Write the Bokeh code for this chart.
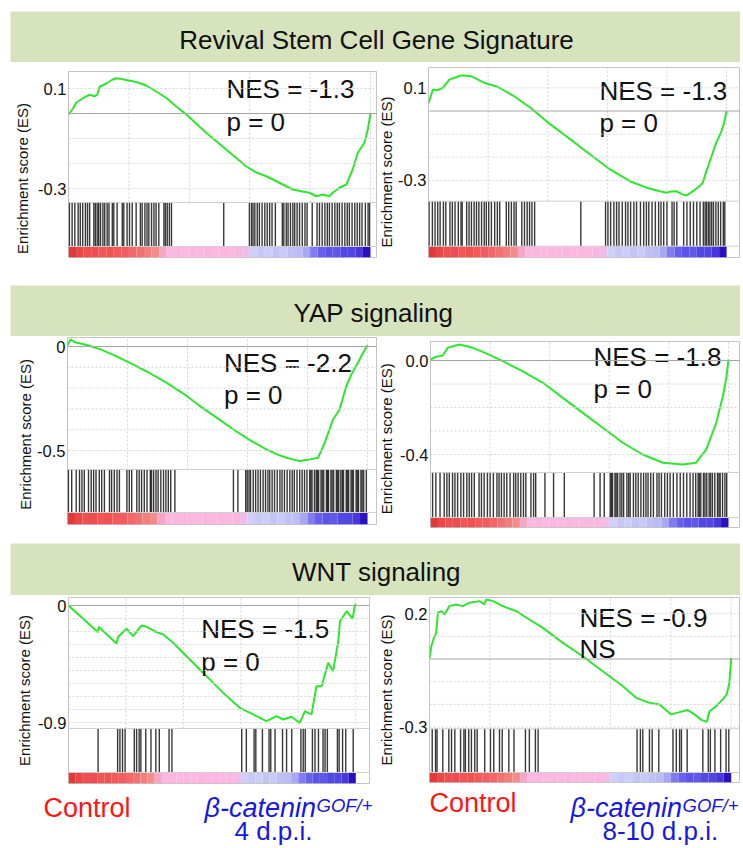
import numpy as np
from bokeh.plotting import figure
from bokeh.models import Span, FixedTicker, Range1d
from bokeh.layouts import column, row
from bokeh.embed import file_html
from bokeh.resources import INLINE
from bokeh.core.properties import value

FONT = "Liberation Sans"
BAND = "#d7e3bd"
GREEN = "#2ee62e"

# ---------------- data ----------------
titles = ["Revival Stem Cell Gene Signature", "YAP signaling", "WNT signaling"]

a_rank = [0, 1.5, 2.5, 4, 5.9, 7, 8.6, 9.5, 10.3, 12.5, 14.5, 15.8, 17.5, 19.5, 21.3, 23.5, 25.7, 28.5, 32.3, 35.5,
          39, 45.6, 52.2, 58.8, 62, 65.5, 69, 72.1, 74.3, 77, 79.8, 82, 84.2, 86.4, 87.5, 89.7, 92, 94.1, 95.8, 98,
          99.1, 100]
a_es = [-0.004, 0.02, 0.043, 0.055, 0.069, 0.075, 0.069, 0.075, 0.107, 0.12, 0.135, 0.141, 0.138, 0.133, 0.129,
        0.122, 0.112, 0.092, 0.063, 0.03, -0.004, -0.077, -0.144, -0.211, -0.235, -0.251, -0.272, -0.291, -0.304,
        -0.311, -0.317, -0.331, -0.324, -0.331, -0.317, -0.297, -0.284, -0.224, -0.157, -0.117, -0.064, 0.0]
a_hits = [0.3, 1.2, 2.1, 3.2, 3.9, 4.7, 5.6, 6.3, 7.0, 8.4, 8.9, 9.5, 10.0, 10.6, 11.4, 12.0, 12.8, 13.4, 14.5, 15.0,
          16.1, 17.8, 18.3, 19.4, 20.2, 21.1, 22.4, 23.8, 24.4, 25.3, 26.0, 26.6, 27.5, 28.3, 29.0, 29.9, 31.6, 32.1,
          32.7, 33.4, 34.1, 51.4, 59.9, 60.6, 61.1, 61.7, 62.5, 63.2, 64.1, 65.0, 65.8, 66.6, 67.4, 68.5, 70.8, 71.3,
          72.1, 72.7, 73.5, 74.3, 74.9, 75.7, 76.5, 77.4, 78.3, 79.0, 80.7, 82.3, 83.1, 84.0, 84.9, 85.7, 86.4, 87.3,
          88.2, 89.0, 89.7, 90.6, 91.5, 92.3, 93.0, 93.9, 94.8, 95.6, 96.4, 97.2, 98.3, 99.2, 99.7]

b_rank = [0, 1.5, 3, 4.8, 7, 9, 10.9, 14.2, 16, 18.7, 23.1, 28.7, 34.2, 40.9, 47.6, 54.2, 60.9, 67.6, 73.1, 77,
          79.8, 81.5, 83.1, 85, 86.5, 88.7, 90.5, 92, 93, 94.2, 96.5, 98.1, 99.2, 100]
b_es = [0.035, 0.093, 0.09, 0.1, 0.136, 0.145, 0.154, 0.151, 0.14, 0.122, 0.105, 0.064, 0.014, -0.058, -0.123,
        -0.188, -0.253, -0.304, -0.332, -0.345, -0.354, -0.348, -0.347, -0.36, -0.366, -0.347, -0.33, -0.311,
        -0.27, -0.224, -0.138, -0.094, -0.051, 0.0]
b_hits = [0.2, 1.3, 2.2, 3.1, 3.9, 5.0, 5.8, 7.2, 8.0, 8.9, 10.0, 10.9, 11.3, 12.8, 13.6, 14.4, 15.3, 16.1, 16.9,
          17.8, 18.7, 19.4, 20.2, 21.1, 22.2, 23.1, 23.9, 26.1, 26.9, 27.8, 28.7, 29.4, 31.3, 32.2, 33.1, 33.9, 34.7,
          35.6, 51.1, 59.4, 60.2, 61.1, 62.2, 63.1, 63.9, 65.0, 66.1, 66.9, 67.8, 68.9, 69.8, 71.1, 72.2, 73.1, 73.9,
          75.0, 76.1, 77.2, 78.0, 78.9, 80.0, 81.7, 82.4, 83.3, 85.6, 86.7, 87.8, 88.9, 90.0, 91.1, 92.2, 92.8, 93.3,
          93.9, 94.4, 95.0, 95.6, 96.4, 97.2, 98.0, 98.9, 99.4]

c_rank = [0, 1, 2.5, 4.3, 7, 11, 16, 22, 27, 33.1, 38.5, 44.2, 49.8, 55.3, 60.8, 66.3, 70, 73, 77.4, 80, 83.5,
          85.7, 88.5, 90.7, 92.9, 94.6, 96.8, 98.5, 100]
c_es = [0.006, 0.034, 0.02, 0.014, 0.005, -0.014, -0.045, -0.087, -0.125, -0.175, -0.225, -0.287, -0.343, -0.399,
        -0.45, -0.495, -0.52, -0.535, -0.551, -0.545, -0.535, -0.463, -0.351, -0.303, -0.191, -0.135, -0.078,
        -0.03, 0.006]
c_hits = [0.3, 1.4, 2.9, 4.0, 4.8, 5.6, 7.0, 7.9, 8.7, 9.5, 10.6, 11.4, 12.3, 14.0, 14.7, 15.6, 16.5, 17.3, 19.8,
          20.6, 21.4, 23.1, 23.9, 24.7, 25.6, 26.5, 27.6, 28.0, 28.7, 29.5, 30.2, 31.1, 32.0, 32.8, 33.6, 34.4, 35.8,
          55.3, 56.8, 59.4, 59.9, 60.5, 61.0, 61.9, 62.7, 63.5, 64.3, 65.2, 66.0, 66.8, 67.4, 68.2, 69.0, 69.9, 70.8,
          71.5, 72.3, 73.2, 74.1, 74.9, 75.6, 76.5, 77.4, 78.2, 79.0, 79.8, 80.7, 81.1, 81.5, 82.3, 82.9, 83.3, 83.7,
          84.5, 84.9, 85.4, 86.3, 86.7, 87.0, 87.8, 88.2, 88.7, 89.6, 90.0, 90.4, 91.1, 91.6, 92.0, 92.9, 93.3, 93.7,
          94.5, 94.9, 95.3, 96.2, 96.6, 97.0, 97.8, 98.2, 98.7, 99.6]

d_rank = [0, 1.9, 4.1, 5.8, 9.7, 14.2, 18.7, 24.3, 31, 37.7, 44.4, 51.1, 57.8, 64.5, 71.2, 78, 84.7, 89.1, 92.5,
          95.9, 98.1, 99.2, 100]
d_es = [0.004, 0.016, 0.021, 0.054, 0.068, 0.054, 0.03, -0.003, -0.046, -0.095, -0.159, -0.223, -0.286, -0.35,
        -0.4, -0.435, -0.443, -0.435, -0.379, -0.265, -0.152, -0.081, 0.004]
d_hits = [0.7, 1.8, 3.2, 4.6, 5.5, 6.3, 7.4, 8.2, 9.1, 10.2, 11.1, 12.2, 13.0, 13.8, 14.7, 16.3, 17.1, 18.0, 19.1,
          20.0, 21.1, 22.3, 23.0, 23.8, 24.7, 25.6, 26.7, 27.9, 28.6, 29.4, 30.3, 31.2, 32.0, 33.7, 34.6, 35.3, 38.4,
          41.3, 44.9, 54.9, 56.9, 58.3, 60.3, 60.7, 61.1, 61.9, 62.3, 62.8, 63.6, 64.2, 64.8, 65.9, 66.5, 67.0, 68.1,
          68.9, 69.7, 70.6, 71.5, 72.3, 73.0, 73.9, 74.8, 76.0, 76.7, 77.5, 78.6, 79.5, 80.4, 81.5, 82.7, 83.8, 84.9,
          86.0, 87.1, 88.1, 89.0, 89.8, 90.2, 90.7, 91.6, 92.1, 92.7, 93.5, 94.0, 94.6, 95.4, 96.3, 96.8, 97.2, 98.0,
          98.8, 99.4]

e_rank = [0, 10.3, 10.5, 16.7, 17.3, 20.2, 22.5, 25.4, 27.2, 30.6, 33, 36.4, 41.1, 45.7, 50.4, 55, 59.6, 64.3,
          66.6, 68.9, 72.4, 74.7, 77.6, 80.5, 82.3, 84.6, 86.3, 88.1, 90.4, 92.1, 93.9, 94.5, 96.8, 98.9, 99.7, 100]
e_es = [0, -0.205, -0.164, -0.292, -0.241, -0.179, -0.236, -0.154, -0.164, -0.205, -0.223, -0.287, -0.39, -0.492,
        -0.595, -0.697, -0.787, -0.838, -0.864, -0.89, -0.851, -0.877, -0.856, -0.903, -0.813, -0.838, -0.621,
        -0.621, -0.441, -0.505, -0.274, -0.121, -0.044, -0.103, 0.008, 0]
e_hits = [10.3, 17.1, 17.9, 18.8, 19.7, 22.9, 23.7, 24.6, 25.2, 26.9, 28.7, 30.4, 31.6, 35.0, 36.0, 60.3, 61.9,
          64.6, 65.2, 67.5, 69.8, 70.4, 71.9, 74.5, 75.9, 77.7, 80.9, 81.7, 82.4, 84.9, 85.8, 87.0, 88.6, 89.3,
          90.1, 93.6, 94.2, 95.4, 96.5, 99.1]

f_rank = [0, 0.6, 1.3, 2.2, 2.8, 3.9, 5, 6.6, 8.8, 11, 13.3, 16.6, 18.2, 18.8, 21, 24.3, 28.7, 33.1, 37.6, 44.2,
          50.8, 57.4, 64.1, 68.5, 72.9, 76.2, 80.1, 82.9, 85.6, 87.8, 90, 91.9, 92.8, 95, 97.2, 98.5, 99.4, 100]
f_es = [0.005, 0.056, 0.086, 0.115, 0.204, 0.211, 0.196, 0.233, 0.24, 0.233, 0.248, 0.255, 0.24, 0.262, 0.255,
        0.233, 0.211, 0.174, 0.137, 0.071, 0.012, -0.054, -0.12, -0.171, -0.193, -0.2, -0.244, -0.234, -0.225,
        -0.244, -0.267, -0.277, -0.23, -0.208, -0.178, -0.156, -0.105, 0.005]
f_hits = [0.9, 2.0, 2.5, 4.4, 6.4, 7.3, 8.4, 10.3, 11.4, 11.9, 13.0, 13.9, 15.0, 15.8, 18.3, 20.2, 21.3, 23.2,
          24.1, 26.3, 28.0, 31.8, 33.1, 35.1, 36.0, 68.8, 69.9, 70.7, 72.9, 73.8, 76.0, 80.7, 81.8, 82.9, 83.5,
          85.4, 90.6, 92.4, 93.1, 94.6, 96.5, 98.3, 99.2]

# ranked-list heat strip (40 bins of 2.5 % each)
cbar_colors = ["#e03a3a", "#ea4848", "#f04f4f", "#ee4c55", "#f25555", "#f05252", "#f45a5a", "#f05c62",
               "#f26868", "#f07272", "#f27e7e", "#f48c8c", "#f6a6c4",
               "#fcb8e0", "#fbb6df", "#fcb8e0", "#fbb7e0", "#fcb8e0", "#fbb6df", "#fcb8e0", "#fbb7e0",
               "#fcb8e0", "#fbb6df", "#f0bde6",
               "#cfcff8", "#c8c8f6", "#cdcdf8", "#c4c4f4", "#cacaf6", "#c0c0f4", "#bcbcf4", "#a8a8f2",
               "#7e7cf0", "#6860ec", "#5c54e8", "#6058ea", "#5448e4", "#5046e2", "#4838dc", "#2a10c0"]

tick_vals = {"A": [0.1, -0.3], "B": [0.1, -0.3], "C": [0.0, -0.5], "D": [0.0, -0.4], "E": [0.0, -0.9], "F": [0.2, -0.3]}
tick_text = {"A": ["0.1", "-0.3"], "B": ["0.1", "-0.3"], "C": ["0", "-0.5"], "D": ["0.0", "-0.4"],
             "E": ["0", "-0.9"], "F": ["0.2", "-0.3"]}
nes_text = {"A": ["NES = -1.3", "p = 0"], "B": ["NES = -1.3", "p = 0"], "C": ["NES = -2.2", "p = 0"],
            "D": ["NES = -1.8", "p = 0"], "E": ["NES = -1.5", "p = 0"], "F": ["NES = -0.9", "NS"]}
YLABEL = "Enrichment score (ES)"

# ---------------- layout (page pixels) ----------------
# lab: ylabel strip (x, width); fig: (x, y, w, h); frame: (left, width, top, height); zero: y of ES=0;
# ppu: px per ES unit; ppx: px per rank percent; eb / bb: bottom of ES area / bottom of hit strip;
# nes: (left x, centre y of line 1, centre y of line 2); ylab: centre of the y label
LAYOUT = {
    "A": dict(lab=(8, 27), fig=(35, 63, 343, 199), frame=(69, 309, 72, 186), zero=114, ppu=250, ppx=3.02,
              eb=203, bb=247, nes=(227, 89, 122), ylab=(23, 177.5)),
    "B": dict(lab=(378, 18), fig=(396, 63, 345, 199), frame=(427, 314, 68, 190), zero=111.5, ppu=231, ppx=3.0,
              eb=201.7, bb=246.7, nes=(599, 91, 123.6), ylab=(387.2, 172.5)),
    "C": dict(lab=(8, 27), fig=(35, 337, 343, 195), frame=(67, 311, 338, 187), zero=347, ppu=208, ppx=3.01,
              eb=470, bb=513, nes=(224, 363, 395), ylab=(26.3, 438)),
    "D": dict(lab=(378, 18), fig=(396, 337, 345, 195), frame=(431, 310, 342, 186), zero=361, ppu=235, ppx=2.98,
              eb=473, bb=518, nes=(594, 357, 389), ylab=(387.2, 439)),
    "E": dict(lab=(8, 27), fig=(35, 596, 343, 190), frame=(69, 301, 598, 186), zero=606, ppu=130, ppx=2.873,
              eb=729, bb=773, nes=(201.7, 629, 662.6), ylab=(25, 691)),
    "F": dict(lab=(378, 18), fig=(396, 596, 345, 190), frame=(430, 311, 598, 185), zero=659.5, ppu=227,
              ppx=3.017, eb=729.3, bb=773, nes=(580, 618.2, 649.2), ylab=(387.2, 691)),
}


def make_ylabel(key):
    s = LAYOUT[key]
    lx0, lw = s["lab"]
    _, fy, _, fh = s["fig"]
    q = figure(width=lw, height=fh, x_range=Range1d(lx0, lx0 + lw), y_range=Range1d(fy + fh, fy),
               x_axis_location=None, y_axis_location=None, toolbar_location=None, output_backend="svg",
               min_border=0)
    q.grid.visible = False
    q.outline_line_color = None
    lx, ly = s["ylab"]
    q.text(x=[lx], y=[ly], text=[YLABEL], angle=np.pi / 2, text_align="center", text_baseline="middle",
           text_font=value(FONT), text_font_size=value("15px"), text_color="#111111")
    return q


def make_panel(key, rank, es, hits):
    s = LAYOUT[key]
    fx, fy, fw, fh = s["fig"]
    L, W, T, H = s["frame"]
    Z, ppu, ppx = s["zero"], s["ppu"], s["ppx"]

    def dx(px):
        return (px - L) / ppx

    def dy(py):
        return (Z - py) / ppu

    ytop, ybot = dy(T), dy(T + H)
    yeb, ybb = dy(s["eb"]), dy(s["bb"])
    p = figure(width=fw, height=fh, x_range=Range1d(0, dx(L + W)), y_range=Range1d(ybot, ytop),
               x_axis_location=None, y_axis_location="left", toolbar_location=None, output_backend="svg",
               min_border_left=L - fx, min_border_right=fx + fw - L - W,
               min_border_top=T - fy, min_border_bottom=fy + fh - T - H)
    p.grid.visible = False
    p.outline_line_color = "#c4c4c4"

    ax = p.yaxis[0]
    ax.ticker = FixedTicker(ticks=tick_vals[key])
    ax.major_label_overrides = {v: t for v, t in zip(tick_vals[key], tick_text[key])}
    ax.major_label_text_font = FONT
    ax.major_label_text_font_size = "16.5px"
    ax.major_label_text_color = "#111111"
    ax.major_label_standoff = 2
    ax.major_tick_out = 0
    ax.major_tick_in = 0
    ax.minor_tick_out = 0
    ax.minor_tick_in = 0
    ax.major_tick_line_color = None
    ax.minor_tick_line_color = None
    ax.axis_line_color = None

    # dotted grid inside the ES area
    lo, hi = int(np.ceil(yeb * 10 + 1e-6)), int(np.floor(ytop * 10 - 1e-6))
    for k in range(lo, hi + 1):
        if k == 0:
            continue
        p.add_layout(Span(location=k / 10, dimension="width", line_color="#d4d4d4", line_width=1,
                          line_dash="2 2"))
    gx = [20, 40, 60, 80, 100]
    p.segment(x0=gx, y0=[yeb] * 5, x1=gx, y1=[ytop] * 5, line_color="#d4d4d4", line_width=1, line_dash="2 2")
    p.add_layout(Span(location=0, dimension="width", line_color="#a6a6a6", line_width=1))
    p.add_layout(Span(location=yeb, dimension="width", line_color="#cfcfcf", line_width=1))
    p.add_layout(Span(location=ybb, dimension="width", line_color="#cfcfcf", line_width=1))

    # heat strip of the ranked list
    n = len(cbar_colors)
    edges = np.linspace(0, 100, n + 1)
    p.quad(left=edges[:-1], right=edges[1:], bottom=[ybot] * n, top=[ybb] * n,
           fill_color=cbar_colors, line_color=None)

    # gene-set hits
    p.segment(x0=hits, y0=[yeb] * len(hits), x1=hits, y1=[ybb] * len(hits),
              line_color="black", line_alpha=0.78, line_width=1.4)

    # running enrichment score
    p.line(rank, es, line_color=GREEN, line_width=2)

    nx, ny1, ny2 = s["nes"]
    p.text(x=[dx(nx), dx(nx)], y=[dy(ny1), dy(ny2)], text=nes_text[key], text_font=value(FONT),
           text_font_size=value("26px"), text_color="#111111", text_align="left", text_baseline="middle")
    return p


def make_band(title, top, height, margin_top, cx, cy):
    b = figure(width=730, height=height, x_range=Range1d(11, 741), y_range=Range1d(top + height, top),
               x_axis_location=None, y_axis_location=None, toolbar_location=None, output_backend="svg",
               min_border=0, margin=(margin_top, 0, 0, 3))
    b.grid.visible = False
    b.outline_line_color = None
    b.background_fill_color = BAND
    b.border_fill_color = BAND
    b.text(x=[cx], y=[cy], text=[title], text_font=value(FONT), text_font_size=value("26px"),
           text_color="#111111", text_align="center", text_baseline="middle")
    return b


band1 = make_band(titles[0], 12, 51, 4, 377, 40.8)
band2 = make_band(titles[1], 286, 51, 24, 374, 313.5)
band3 = make_band(titles[2], 544, 52, 12, 377, 572.3)

panels = {}
for key, (r, e, h) in {"A": (a_rank, a_es, a_hits), "B": (b_rank, b_es, b_hits),
                       "C": (c_rank, c_es, c_hits), "D": (d_rank, d_es, d_hits),
                       "E": (e_rank, e_es, e_hits), "F": (f_rank, f_es, f_hits)}.items():
    panels[key] = row(make_ylabel(key), make_panel(key, r, e, h))

# bottom group labels
lab = figure(width=733, height=60, x_range=Range1d(8, 741), y_range=Range1d(846, 786),
             x_axis_location=None, y_axis_location=None, toolbar_location=None, output_backend="svg",
             min_border=0)
lab.grid.visible = False
lab.outline_line_color = None
RED, BLUE = "#ff1414", "#1717e0"
lab.text(x=[44, 430], y=[808.5, 803.5], text=["Control", "Control"], text_font=value(FONT),
         text_font_size=value("27px"), text_color=RED, text_baseline="middle")
lab.text(x=[205, 571], y=[808.5, 808.5], text=["\u03b2-catenin", "\u03b2-catenin"], text_font=value(FONT),
         text_font_size=value("27px"), text_font_style="italic", text_color=BLUE, text_baseline="middle")
lab.text(x=[317, 683], y=[805.5, 805.5], text=["GOF/+", "GOF/+"], text_font=value(FONT),
         text_font_size=value("18.5px"), text_font_style="italic", text_color=BLUE, text_baseline="middle")
lab.text(x=[235, 603], y=[831, 831], text=["4 d.p.i.", "8-10 d.p.i."], text_font=value(FONT),
         text_font_size=value("26px"), text_color=BLUE, text_baseline="middle")

layout = column(band1, row(panels["A"], panels["B"]), band2, row(panels["C"], panels["D"]), band3,
                row(panels["E"], panels["F"]), lab, margin=(7, 0, 0, 7))

with open("out.html", "w") as fh:
    fh.write(file_html(layout, INLINE))
